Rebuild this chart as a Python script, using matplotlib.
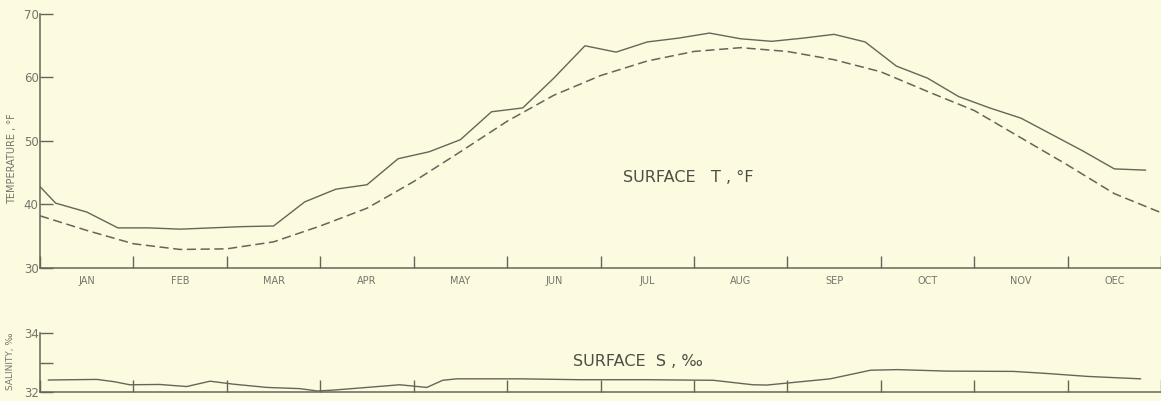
import matplotlib.pyplot as plt
import numpy as np

# month names along the axis (as printed)
months = ['JAN', 'FEB', 'MAR', 'APR', 'MAY', 'JUN', 'JUL', 'AUG', 'SEP', 'OCT', 'NOV', 'OEC']

# observed surface temperature, °F (start of year, then 10-day means)
temp_obs = [42.8,
            40.2, 38.8, 36.3, 36.3, 36.1, 36.3, 36.5, 36.6, 40.4,
            42.4, 43.1, 47.2, 48.3, 50.2, 54.6, 55.2, 59.9, 65.0,
            64.0, 65.6, 66.2, 67.0, 66.1, 65.7, 66.2, 66.8, 65.6,
            61.8, 59.9, 57.0, 55.2, 53.6, 51.0, 48.4, 45.6, 45.4]
temp_obs_x = [0.0] + [(k + 0.5) / 3 for k in range(36)]

# long-term mean curve, half-month steps
temp_mean = [38.2, 35.9, 33.8, 32.9, 33.0, 34.1, 36.6, 39.4, 43.6, 48.3,
             53.1, 57.2, 60.3, 62.6, 64.1, 64.7, 64.1, 62.8, 60.9, 57.8,
             54.8, 50.5, 46.2, 41.7, 38.7]
temp_mean_x = [k * 0.5 for k in range(25)]

# surface salinity, per mille
sal_x = [0.09, 0.61, 0.80, 0.96, 1.28, 1.57, 1.82, 2.07, 2.43, 2.78, 2.97,
         3.14, 3.50, 3.85, 4.14, 4.31, 4.46, 5.14, 5.78, 6.50, 7.21, 7.63,
         7.78, 8.46, 8.89, 9.18, 9.71, 10.42, 10.78, 11.22, 11.78]
sal = [32.41, 32.43, 32.35, 32.25, 32.26, 32.19, 32.37, 32.27, 32.16, 32.12,
       32.04, 32.07, 32.16, 32.25, 32.16, 32.40, 32.45, 32.45, 32.42, 32.42,
       32.40, 32.25, 32.24, 32.45, 32.74, 32.76, 32.71, 32.70, 32.63, 32.53,
       32.45]

bg = '#fcfadf'
ink = '#65665a'
txt = '#74756a'

fig = plt.figure(figsize=(11.61, 4.01), dpi=100, facecolor=bg)
ax1 = fig.add_axes([0.0345, 0.332, 0.9655, 0.633], facecolor=bg)
ax2 = fig.add_axes([0.0345, 0.022, 0.9655, 0.148], facecolor=bg)

ax1.plot(temp_obs_x, temp_obs, color=ink, lw=1.0)
ax1.plot(temp_mean_x, temp_mean, color=ink, lw=1.1, ls=(0, (6, 3)))
ax1.set_ylim(30, 70)
ax1.set_yticks([30, 40, 50, 60, 70])
ax1.text(6.94, 44.3, 'SURFACE   T , °F', ha='center', va='center',
         fontsize=11.5, color='#4d4e44')
ax1.set_ylabel('TEMPERATURE , °F', fontsize=7, color=txt)
ax1.yaxis.set_label_coords(-0.0205, 0.43)

ax2.plot(sal_x, sal, color=ink, lw=1.0)
ax2.set_ylim(32, 34)
ax2.set_yticks([32, 33, 34])
ax2.set_yticklabels(['32', '', '34'])
ax2.text(6.4, 33.05, 'SURFACE  S , ‰', ha='center', va='center',
         fontsize=11.5, color='#4d4e44')
ax2.set_ylabel('SALINITY, ‰', fontsize=6.5, color=txt)
ax2.yaxis.set_label_coords(-0.022, 0.52)

for ax in (ax1, ax2):
    ax.set_xlim(0, 12)
    for s in ('top', 'right'):
        ax.spines[s].set_visible(False)
    for s in ('left', 'bottom'):
        ax.spines[s].set_color(ink)
        ax.spines[s].set_linewidth(1.1)
    ax.set_xticks(range(13))
    ax.set_xticklabels([])
    ax.tick_params(axis='x', which='major', direction='in', length=9,
                   width=1, color=ink)
    ax.tick_params(axis='y', which='major', direction='in', length=9,
                   width=1, color=ink, labelsize=8.5, labelcolor=txt, pad=1)

ax1.set_xticks(np.arange(12) + 0.5, minor=True)
ax1.set_xticklabels(months, minor=True)
ax1.tick_params(axis='x', which='minor', length=0, labelsize=7,
                labelcolor=txt, pad=6)

fig.savefig('out.png', dpi=100, facecolor=bg)
